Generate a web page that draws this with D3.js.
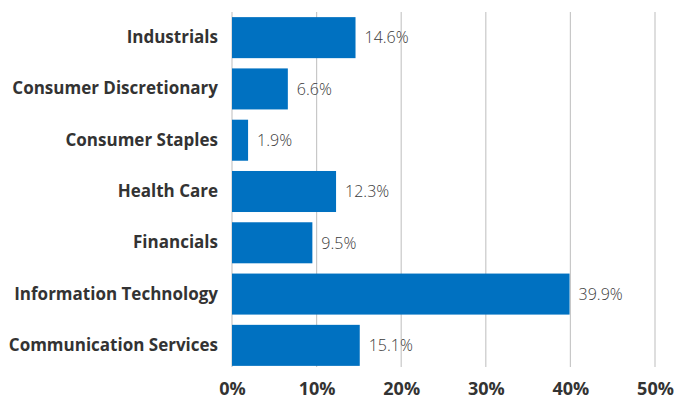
<!DOCTYPE html>
<html>
<head>
<meta charset="utf-8">
<script src="https://cdn.jsdelivr.net/npm/d3@7"></script>
<style>
  html, body { margin: 0; padding: 0; background: #fff; }
  svg { display: block; }
</style>
</head>
<body>
<div id="chart"></div>
<script>
// Sector weights (%)
const sectors = [
  "Industrials",
  "Consumer Discretionary",
  "Consumer Staples",
  "Health Care",
  "Financials",
  "Information Technology",
  "Communication Services"
];
const weights = [14.6, 6.6, 1.9, 12.3, 9.5, 39.9, 15.1];
const xTicks = [0, 10, 20, 30, 40, 50];

const width = 676, height = 401;
const plot = { left: 232, right: 655, top: 12, bottom: 367 };
const font = "'Open Sans', Lato, sans-serif";

const svg = d3.select("#chart").append("svg")
  .attr("width", width).attr("height", height);

const x = d3.scaleLinear().domain([0, 50]).range([plot.left, plot.right]);
const y = d3.scaleBand().domain(sectors).range([plot.top, plot.top + 359])
  .paddingInner(0.2).paddingOuter(0.1);

// vertical gridlines
svg.append("g").selectAll("line").data(xTicks).join("line")
  .attr("x1", d => x(d)).attr("x2", d => x(d))
  .attr("y1", plot.top).attr("y2", plot.bottom)
  .attr("stroke", "#c8c8c8").attr("stroke-width", 1.2);

// bars
svg.append("g").selectAll("rect").data(weights).join("rect")
  .attr("x", x(0))
  .attr("y", (d, i) => y(sectors[i]))
  .attr("width", d => x(d) - x(0))
  .attr("height", y.bandwidth())
  .attr("fill", "#0071c1");

// value labels
svg.append("g").selectAll("text").data(weights).join("text")
  .attr("x", d => x(d) + 9)
  .attr("y", (d, i) => y(sectors[i]) + y.bandwidth() / 2)
  .attr("dy", "0.36em")
  .attr("font-family", font)
  .attr("font-size", 16)
  .attr("font-weight", 300)
  .attr("fill", "#3a3a3a")
  .text(d => d.toFixed(1) + "%");

// category labels
const yAxis = svg.append("g")
  .attr("transform", `translate(${plot.left},0)`)
  .call(d3.axisLeft(y).tickSize(0).tickPadding(14));
yAxis.select(".domain").remove();
yAxis.selectAll("text")
  .attr("font-family", font)
  .attr("font-size", 17)
  .attr("font-weight", 700)
  .attr("fill", "#333");

// x axis tick labels
const xAxis = svg.append("g")
  .attr("transform", `translate(0,${plot.bottom})`)
  .call(d3.axisBottom(x).tickValues(xTicks).tickSize(0).tickPadding(15)
    .tickFormat(d => d + "%"));
xAxis.select(".domain").remove();
xAxis.selectAll("text")
  .attr("font-family", font)
  .attr("font-size", 18)
  .attr("font-weight", 700)
  .attr("fill", "#333");
</script>
</body>
</html>
